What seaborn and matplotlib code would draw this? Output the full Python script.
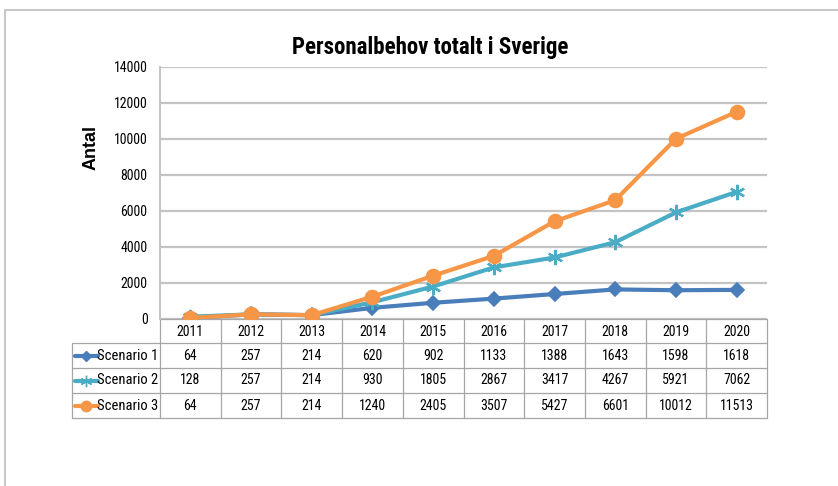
import numpy as np
import pandas as pd
import matplotlib
matplotlib.use("Agg")
import matplotlib.pyplot as plt
from matplotlib.lines import Line2D
from matplotlib.patches import Rectangle
import seaborn as sns

years = ["2011", "2012", "2013", "2014", "2015", "2016", "2017", "2018", "2019", "2020"]
scenarios = ["Scenario 1", "Scenario 2", "Scenario 3"]
scenario_1 = [64, 257, 214, 620, 902, 1133, 1388, 1643, 1598, 1618]
scenario_2 = [128, 257, 214, 930, 1805, 2867, 3417, 4267, 5921, 7062]
scenario_3 = [64, 257, 214, 1240, 2405, 3507, 5427, 6601, 10012, 11513]
y_ticks = [0, 2000, 4000, 6000, 8000, 10000, 12000, 14000]

colors = ["#4a7ebb", "#4bacc6", "#f79646"]
markers = ["D", (6, 2, 0), "o"]
msizes = [7, 11, 10]

df = pd.DataFrame({
    "pos": list(range(len(years))) * 3,
    "value": scenario_1 + scenario_2 + scenario_3,
    "scenario": np.repeat(scenarios, len(years)),
})

sns.set_style("white")
narrow = ["Liberation Sans Narrow", "Roboto Condensed", "Open Sans Condensed", "Lato", "DejaVu Sans"]
plt.rcParams["font.family"] = narrow
plt.rcParams["text.color"] = "black"
plt.rcParams["ytick.color"] = "black"
plt.rcParams["axes.labelcolor"] = "black"

W, H = 838, 486
fig = plt.figure(figsize=(W / 100, H / 100), dpi=100)

# outer frame
fig.patches.append(Rectangle((5 / W, -0.1), 1.2, 1 - 10 / H + 0.1, transform=fig.transFigure,
                             fill=False, edgecolor="#c8c8c8", linewidth=1.5))

x0, x1, ytop, ybot = 160, 767, 67, 319
ax = fig.add_axes([x0 / W, 1 - ybot / H, (x1 - x0) / W, (ybot - ytop) / H])

for i, name in enumerate(scenarios):
    sub = df[df["scenario"] == name]
    sns.lineplot(data=sub, x="pos", y="value", ax=ax, color=colors[i], linewidth=3.0,
                 marker=markers[i], markersize=msizes[i], markeredgecolor=colors[i],
                 markeredgewidth=1.2 if i != 1 else 1.6, legend=False, zorder=5 + i)

ax.set_xlim(-0.5, len(years) - 0.5)
ax.set_ylim(0, 14000)
ax.set_yticks(y_ticks)
ax.set_yticklabels([str(v) for v in y_ticks], fontsize=10)
ax.tick_params(axis="y", length=0, pad=9)
ax.set_xticks([])
ax.set_xlabel("")
for v in y_ticks:
    ax.axhline(v, color="#c4c4c4", linewidth=1.6, zorder=1)
for s in ["top", "right", "bottom"]:
    ax.spines[s].set_visible(False)
ax.spines["left"].set_color("#c4c4c4")
ax.spines["left"].set_linewidth(1.4)

fig.text(430 / W, 1 - 47 / H, "Personalbehov totalt i Sverige", ha="center", va="center",
         fontsize=16.5, fontweight="bold")

# data table under the axes
ph = ybot - ytop
def ay(py):
    return (ybot - py) / ph

def axx(px):
    return (px - x0) / (x1 - x0)

ax.set_ylabel("Antal", family=["Liberation Sans", "DejaVu Sans"], fontweight="bold", fontsize=13)
ax.yaxis.set_label_coords(axx(100), ay(148))

row_edges = [319, 343, 368, 393, 418]
tbl_left = 72
lc = "#a6a6a6"
n = len(years)
for k, py in enumerate(row_edges):
    left = x0 if k == 0 else tbl_left
    ax.add_line(Line2D([axx(left), 1], [ay(py)] * 2, transform=ax.transAxes,
                       color=lc, linewidth=0.9, clip_on=False))
for j in range(n + 1):
    ax.add_line(Line2D([j / n] * 2, [ay(319), ay(418)], transform=ax.transAxes,
                       color=lc, linewidth=0.9, clip_on=False))
ax.add_line(Line2D([axx(tbl_left)] * 2, [ay(343), ay(418)], transform=ax.transAxes,
                   color=lc, linewidth=0.9, clip_on=False))

for j, yr in enumerate(years):
    ax.text((j + 0.5) / n, ay(332), yr, transform=ax.transAxes, ha="center", va="center", fontsize=10)

values = [scenario_1, scenario_2, scenario_3]
for k, name in enumerate(scenarios):
    yc = ay((row_edges[k + 1] + row_edges[k + 2]) / 2)
    for j, v in enumerate(values[k]):
        ax.text((j + 0.5) / n, yc, str(v), transform=ax.transAxes, ha="center", va="center", fontsize=10)
    ax.text(axx(158), yc, name, transform=ax.transAxes, ha="right", va="center", fontsize=10.5)
    ax.add_line(Line2D([axx(75), axx(98)], [yc, yc], transform=ax.transAxes, color=colors[k],
                       linewidth=3.0, clip_on=False))
    ax.add_line(Line2D([axx(86)], [yc], transform=ax.transAxes, color=colors[k], marker=markers[k],
                       markersize=msizes[k] * 0.75, markeredgecolor=colors[k], clip_on=False))

fig.savefig("out.png", dpi=100)
